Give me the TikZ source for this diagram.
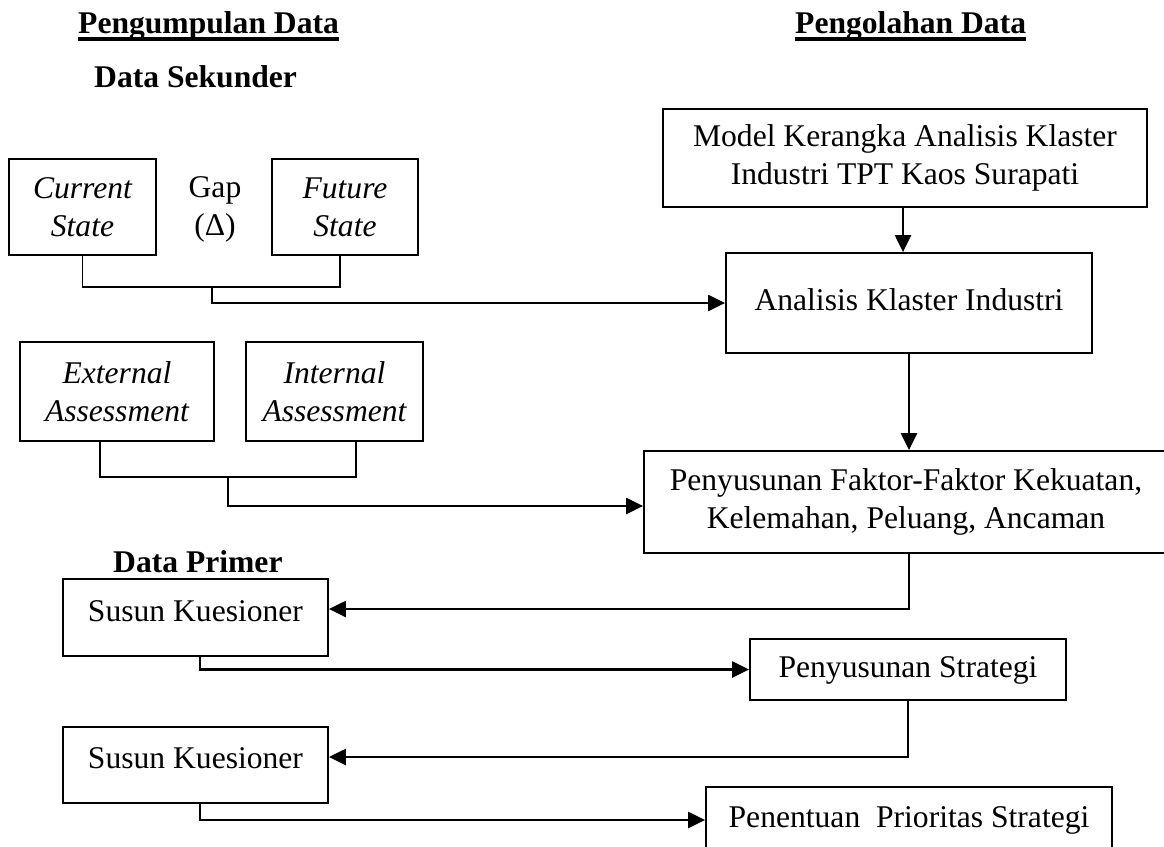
\documentclass[tikz,border=0pt]{standalone}
\usepackage{fontspec}
\setmainfont{Liberation Serif}
\usetikzlibrary{arrows.meta}
\begin{document}
\begin{tikzpicture}[x=1pt,y=-1pt,
  font=\fontsize{31.6pt}{38pt}\selectfont,
  box/.style={draw, line width=1.8pt, inner sep=0pt, align=center},
  sz/.style 2 args={minimum width=#1pt, minimum height=#2pt},
  one/.style={text height=22pt, text depth=7pt},
  ital/.style={font=\fontsize{31.6pt}{38pt}\selectfont\itshape},
  head/.style={font=\fontsize{31.6pt}{38pt}\selectfont\bfseries, inner sep=0pt, anchor=base west},
  link/.style={line width=1.8pt},
  flow/.style={line width=2.3pt, -{Triangle[length=17pt,width=16pt]}},
  uline/.style={line width=3.2pt}]
\useasboundingbox (0,0) rectangle (1164,846);
\clip (0,0) rectangle (1164,846);
\fill[white] (0,0) rectangle (1164,846);

% headings
\node[head] (t1) at (78,33) {Pengumpulan Data};
\node[head] (t2) at (795,33) {Pengolahan Data};
\draw[uline] ([yshift=-6pt]t1.base west) -- ([yshift=-6pt]t1.base east);
\draw[uline] ([yshift=-6pt]t2.base west) -- ([yshift=-6pt]t2.base east);
\node[head] (sek) at (94,87) {Data Sekunder};
\node[head] (pri) at (113,572) {Data Primer};

% secondary data
\node[box, ital, sz={147}{96}] (cur) at (82.5,207) {Current\\State};
\node[box, ital, sz={146}{96}] (fut) at (345,207) {Future\\State};
\node[inner sep=0pt, align=center] (gap) at (215,209) {Gap\\(Δ)};
\node[box, ital, sz={194}{99}] (ext) at (117,391.5) {External\\Assessment};
\node[box, ital, sz={177}{99}] (int) at (334.5,391.5) {Internal\\Assessment};

% processing column
\node[box, sz={484}{98}] (model) at (905,158) {Model Kerangka Analisis Klaster\\Industri TPT Kaos Surapati};
\node[box, one, sz={366}{100}] (ana) at (909,303) {Analisis Klaster Industri};
\node[box, sz={524}{102}] (pfk) at (906,502) {Penyusunan Faktor-Faktor Kekuatan,\\Kelemahan, Peluang, Ancaman};
\node[box, one, sz={316}{61}] (ps) at (908,669.5) {Penyusunan Strategi};
\node[box, one, sz={406}{66}] (pen) at (909,820) {Penentuan\ \ Prioritas Strategi};

% primary data
\node[box, sz={265}{77}, text height=22pt, text depth=15pt] (s1) at (195.5,617.5) {Susun Kuesioner};
\node[box, sz={265}{76}, text height=22pt, text depth=15pt] (s2) at (195.5,765) {Susun Kuesioner};

% junctions
\coordinate (j1) at (212,287);
\coordinate (j2) at (228,477);

% connectors
\draw[link] (cur.south) -- (cur.south |- j1) -- ([xshift=-5pt]fut.south |- j1) -- ([xshift=-5pt]fut.south);
\draw[flow] (j1) |- (ana.west);
\draw[link] ([xshift=-17pt]ext.south) -- ([xshift=-17pt]ext.south |- j2) -- ([xshift=21.5pt]int.south |- j2) -- ([xshift=21.5pt]int.south);
\draw[flow] (j2) |- ([yshift=-4pt]pfk.west);
\draw[flow] ([xshift=-2pt]model.south) -- ([xshift=-2pt]model.south |- ana.north);
\draw[flow] (ana.south) -- (ana.south |- pfk.north);
\draw[flow] (ana.south |- pfk.south) |- ([yshift=8.5pt]s1.east);
\draw[flow] ([xshift=4.5pt]s1.south) |- (ps.west);
\draw[flow] (ps.south) |- ([yshift=8pt]s2.east);
\draw[flow] ([xshift=4.5pt]s2.south) |- (pen.west);
\end{tikzpicture}
\end{document}
